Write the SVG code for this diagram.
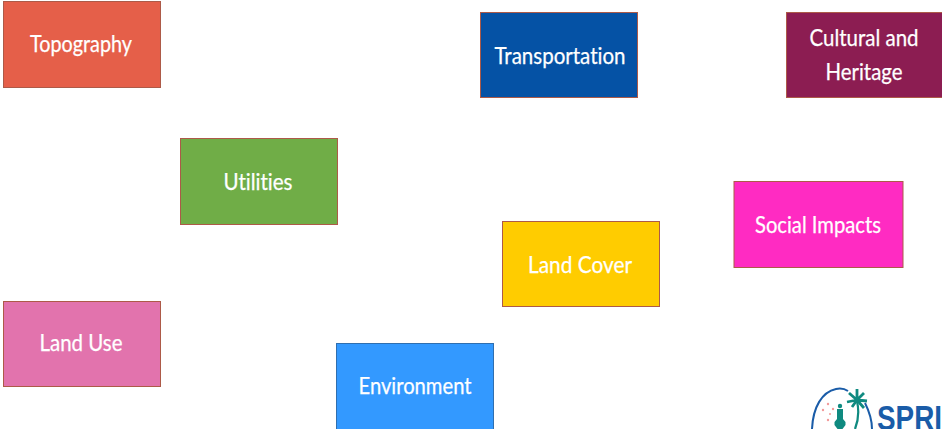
<svg xmlns="http://www.w3.org/2000/svg" width="942" height="429" viewBox="0 0 942 429">
<style>
rect.b{stroke:#ad5a48;stroke-width:1}
text.t{font-family:"Lato","Open Sans",sans-serif;font-size:23px;fill:#fff;text-anchor:middle;stroke:#fff;stroke-width:.25;font-variant-ligatures:none}
</style>
<rect width="942" height="429" fill="#fff"/>
<g id="topography"><rect class="b" x="3.5" y="1.5" width="157" height="86" fill="#e55f49"/><text class="t" x="81" y="52" textLength="102" lengthAdjust="spacingAndGlyphs">Topography</text></g>
<g id="transportation"><rect class="b" x="480.5" y="12.5" width="157" height="85" fill="#0552a5"/><text class="t" x="560" y="64" textLength="131" lengthAdjust="spacingAndGlyphs">Transportation</text></g>
<g id="cultural"><rect class="b" x="786.5" y="12.5" width="157" height="85" fill="#8c1d52"/><text class="t" x="864" y="46" textLength="109" lengthAdjust="spacingAndGlyphs">Cultural and</text><text class="t" x="864" y="80" textLength="77" lengthAdjust="spacingAndGlyphs">Heritage</text></g>
<g id="utilities"><rect class="b" x="180.5" y="138.5" width="157" height="86" fill="#70ad47"/><text class="t" x="258" y="190" textLength="69" lengthAdjust="spacingAndGlyphs">Utilities</text></g>
<g id="social"><rect class="b" x="734" y="181.5" width="169" height="86" fill="#ff2bc2"/><text class="t" x="818" y="233" textLength="126" lengthAdjust="spacingAndGlyphs">Social Impacts</text></g>
<g id="landcover"><rect class="b" x="502.5" y="221.5" width="157" height="85" fill="#ffcc00"/><text class="t" x="580" y="273" textLength="104" lengthAdjust="spacingAndGlyphs">Land Cover</text></g>
<g id="landuse"><rect class="b" x="3.5" y="301.5" width="157" height="85" fill="#e273ad"/><text class="t" x="81" y="351" textLength="83" lengthAdjust="spacingAndGlyphs">Land Use</text></g>
<g id="environment"><rect class="b" x="336.5" y="343.5" width="157" height="86" fill="#3399ff" style="stroke:#2f6fb0"/><text class="t" x="415" y="394" textLength="113" lengthAdjust="spacingAndGlyphs">Environment</text></g>
<g id="logo">
<path d="M812 429C813 407 822 392 836 389C841 388 845 389 848 391" fill="none" stroke="#1a5ca8" stroke-width="2"/>
<path d="M865 403C869 411 872 420 872 429" fill="none" stroke="#1a5ca8" stroke-width="2"/>
<circle cx="840" cy="406" r="2.2" fill="#0f8a80"/>
<path d="M837 409h6v10l2.500 3v3l-3 4h-5l-3-4v-3l2.500-3z" fill="#0f8a80"/>
<path d="M855 429C859 419 859 410 857 401" fill="none" stroke="#0f8a80" stroke-width="2.200"/>
<path d="M857 400L847 402M857 400L849 393M857 400L857 389M857 400L864 393M857 400L867 401M857 400L864 408M857 400L852 407" stroke="#0f8a80" stroke-width="2.800" fill="none"/>
<g fill="#f29a9a"><circle cx="828" cy="404" r="1.200"/><circle cx="823" cy="410" r="1.200"/><circle cx="833" cy="409" r="1.200"/><circle cx="830" cy="414" r="1"/><circle cx="828" cy="420" r="1.200"/></g>
<text x="877" y="430" font-family="'Liberation Sans',sans-serif" font-weight="700" font-size="35" fill="#1a5ca8" textLength="65" lengthAdjust="spacingAndGlyphs">SPRI</text>
</g>
</svg>
